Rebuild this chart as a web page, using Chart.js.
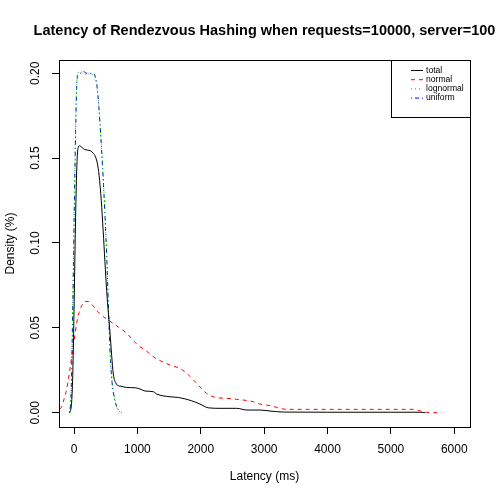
<!DOCTYPE html>
<html>
<head>
<meta charset="utf-8">
<script src="https://cdn.jsdelivr.net/npm/chart.js@4.4.1/dist/chart.umd.min.js"></script>
<style>
  body { margin: 0; background: #fff; }
  canvas { display: block; }
</style>
</head>
<body>
<canvas id="chart" width="500" height="500"></canvas>
<script>

const chartTitle = 'Latency of Rendezvous Hashing when requests=10000, server=100';
const xTitle = 'Latency (ms)';
const yTitle = 'Density (%)';

const seriesNames = ['total', 'normal', 'lognormal', 'uniform'];

// values
const totalX = [-70, -40, -20, 0, 20, 40, 60, 85, 120, 170, 250, 300, 330, 370, 395, 430, 460, 515, 568, 620,
  660, 700, 726, 831, 962, 1041, 1120, 1251, 1305, 1515, 1646, 1851, 1988, 2119, 2304, 2567, 2725, 2935, 3093, 3303,
  4000, 5000, 5459, 5540];
const totalY = [0, 0.005, 0.022, 0.06, 0.105, 0.14, 0.155, 0.1573, 0.1565, 0.155, 0.1545, 0.153, 0.1515, 0.1466, 0.14, 0.125, 0.107, 0.072, 0.047, 0.0228,
  0.0175, 0.0159, 0.0157, 0.0149, 0.0147, 0.014, 0.0128, 0.0124, 0.011, 0.0094, 0.009, 0.0071, 0.0051, 0.0029, 0.0026, 0.0026, 0.0016, 0.0016, 0.001, 0.0004,
  0.0003, 0.0003, 0.0003, 0];

const normalX = [-225, -190, -150, -115, -75, -36, 0, 43, 80, 121, 170, 226, 300, 400, 541, 700, 831, 989, 1172, 1251,
  1515, 1672, 1778, 1936, 2093, 2225, 2400, 2567, 2830, 2935, 3093, 3356, 3700, 4500, 5354, 5470, 5565, 5802];
const normalY = [0.002, 0.004, 0.009, 0.014, 0.023, 0.033, 0.042, 0.053, 0.059, 0.063, 0.0655, 0.0655, 0.063, 0.0585, 0.0546, 0.0505, 0.0468, 0.0405, 0.0355, 0.033,
  0.0281, 0.0261, 0.0232, 0.0173, 0.0114, 0.0091, 0.0085, 0.0079, 0.0065, 0.0051, 0.0042, 0.002, 0.002, 0.002, 0.002, 0.001, 0.0002, 0];

const lognormalX = [-65, -45, -25, 0, 20, 40, 60, 100, 150, 200, 250, 300, 335, 370, 410, 450, 490, 520, 545, 570, 600, 640, 680, 710, 740];
const lognormalY = [0, 0.013, 0.052, 0.112, 0.157, 0.191, 0.2, 0.201, 0.2, 0.199, 0.2, 0.199, 0.197, 0.19, 0.171, 0.146, 0.116, 0.089, 0.061, 0.036, 0.019, 0.009, 0.003, 0.001, 0];

const uniformX = [-70, -45, -25, 0, 20, 40, 60, 100, 150, 200, 250, 300, 335, 370, 410, 450, 490, 520, 545, 570, 600, 640, 680, 720, 750];
const uniformY = [0, 0.012, 0.05, 0.11, 0.155, 0.19, 0.199, 0.2, 0.201, 0.2, 0.2, 0.2, 0.198, 0.19, 0.17, 0.145, 0.115, 0.088, 0.06, 0.035, 0.018, 0.008, 0.003, 0.001, 0];

const xTicks = [0, 1000, 2000, 3000, 4000, 5000, 6000];
const xTickLabels = ['0', '1000', '2000', '3000', '4000', '5000', '6000'];
const yTicks = [0, 0.05, 0.1, 0.15, 0.2];
const yTickLabels = ['0.00', '0.05', '0.10', '0.15', '0.20'];

const lineColors = ['#000000', '#ff0000', '#00cd00', '#0000ff'];
const lineDashes = [[], [4, 4], [1, 3], [1, 3, 4, 3]];

const fontName = '"Liberation Sans", Arial, Helvetica, sans-serif';

// pair up x and y arrays for a line dataset
const toPoints = function makePoints(xs, ys) {
  return xs.map((x, i) => ({ x: x, y: ys[i] }));
};

// draws the box, the title, axis titles, y labels and the legend like R does
const rStyle = {
  id: 'rStyle',
  afterDraw(chart) {
    const ctx = chart.ctx;
    const area = chart.chartArea;
    const yScale = chart.scales.y;
    const midX = (area.left + area.right) / 2;

    ctx.save();
    ctx.strokeStyle = '#000';
    ctx.lineWidth = 1;
    ctx.strokeRect(area.left + 0.5, area.top + 0.5, area.right - area.left, area.bottom - area.top);

    ctx.fillStyle = '#000';
    ctx.textAlign = 'center';
    ctx.textBaseline = 'middle';

    ctx.font = 'bold 14.5px ' + fontName;
    ctx.fillText(chartTitle, midX, 31);

    ctx.font = '12px ' + fontName;
    ctx.fillText(xTitle, midX, 477);

    ctx.save();
    ctx.translate(11, (area.top + area.bottom) / 2);
    ctx.rotate(-Math.PI / 2);
    ctx.fillText(yTitle, 0, 0);
    ctx.restore();

    // rotated y tick labels
    yTicks.forEach((v, i) => {
      ctx.save();
      ctx.translate(36, yScale.getPixelForValue(v));
      ctx.rotate(-Math.PI / 2);
      ctx.fillText(yTickLabels[i], 0, 0);
      ctx.restore();
    });

    // legend in top right corner
    const boxW = 79;
    const boxH = 57;
    const bx = area.right - boxW;
    const by = area.top;
    ctx.fillStyle = '#fff';
    ctx.fillRect(bx, by, boxW, boxH);
    ctx.strokeRect(bx + 0.5, by + 0.5, boxW, boxH);
    ctx.font = '8.6px ' + fontName;
    ctx.textAlign = 'left';
    chart.data.datasets.forEach((ds, i) => {
      const ly = by + 10.5 + i * 9.2;
      ctx.strokeStyle = ds.borderColor;
      ctx.setLineDash(ds.borderDash);
      ctx.beginPath();
      ctx.moveTo(bx + 20, ly);
      ctx.lineTo(bx + 32, ly);
      ctx.stroke();
      ctx.setLineDash([]);
      ctx.fillStyle = '#000';
      ctx.fillText(ds.label, bx + 35, ly);
    });
    ctx.restore();
  }
};

const renderChart = function renderDensityChart() {
  const allX = [totalX, normalX, lognormalX, uniformX];
  const allY = [totalY, normalY, lognormalY, uniformY];

  const datasets = seriesNames.map((name, i) => ({
    label: name,
    data: toPoints(allX[i], allY[i]),
    borderColor: lineColors[i],
    borderDash: lineDashes[i],
    borderWidth: 1,
    pointRadius: 0,
    fill: false,
    cubicInterpolationMode: 'monotone',
  }));

  new Chart(document.getElementById('chart'), {
    type: 'line',
    data: { datasets: datasets },
    options: {
      responsive: false,
      animation: false,
      events: [],
      layout: { padding: { top: 60, right: 30, left: 0, bottom: 0 } },
      plugins: {
        legend: { display: false },
        title: { display: false },
        tooltip: { enabled: false },
      },
      scales: {
        x: {
          type: 'linear',
          min: -237,
          max: 6248,
          afterBuildTicks: (scale) => { scale.ticks = xTicks.map(v => ({ value: v })); },
          afterFit: (scale) => { scale.height = 73; },
          border: { display: false },
          grid: { drawOnChartArea: false, drawTicks: true, tickLength: 7, color: '#000' },
          ticks: {
            color: '#000',
            font: { size: 12, family: fontName },
            padding: 8,
            maxRotation: 0,
            callback: (v) => xTickLabels[xTicks.indexOf(v)],
          },
        },
        y: {
          type: 'linear',
          min: -0.0084,
          max: 0.2078,
          afterBuildTicks: (scale) => { scale.ticks = yTicks.map(v => ({ value: v })); },
          afterFit: (scale) => { scale.width = 59; },
          border: { display: false },
          grid: { drawOnChartArea: false, drawTicks: true, tickLength: 7, color: '#000' },
          ticks: { display: false },
        },
      },
    },
    plugins: [rStyle],
  });
};

renderChart();
</script>
</body>
</html>
